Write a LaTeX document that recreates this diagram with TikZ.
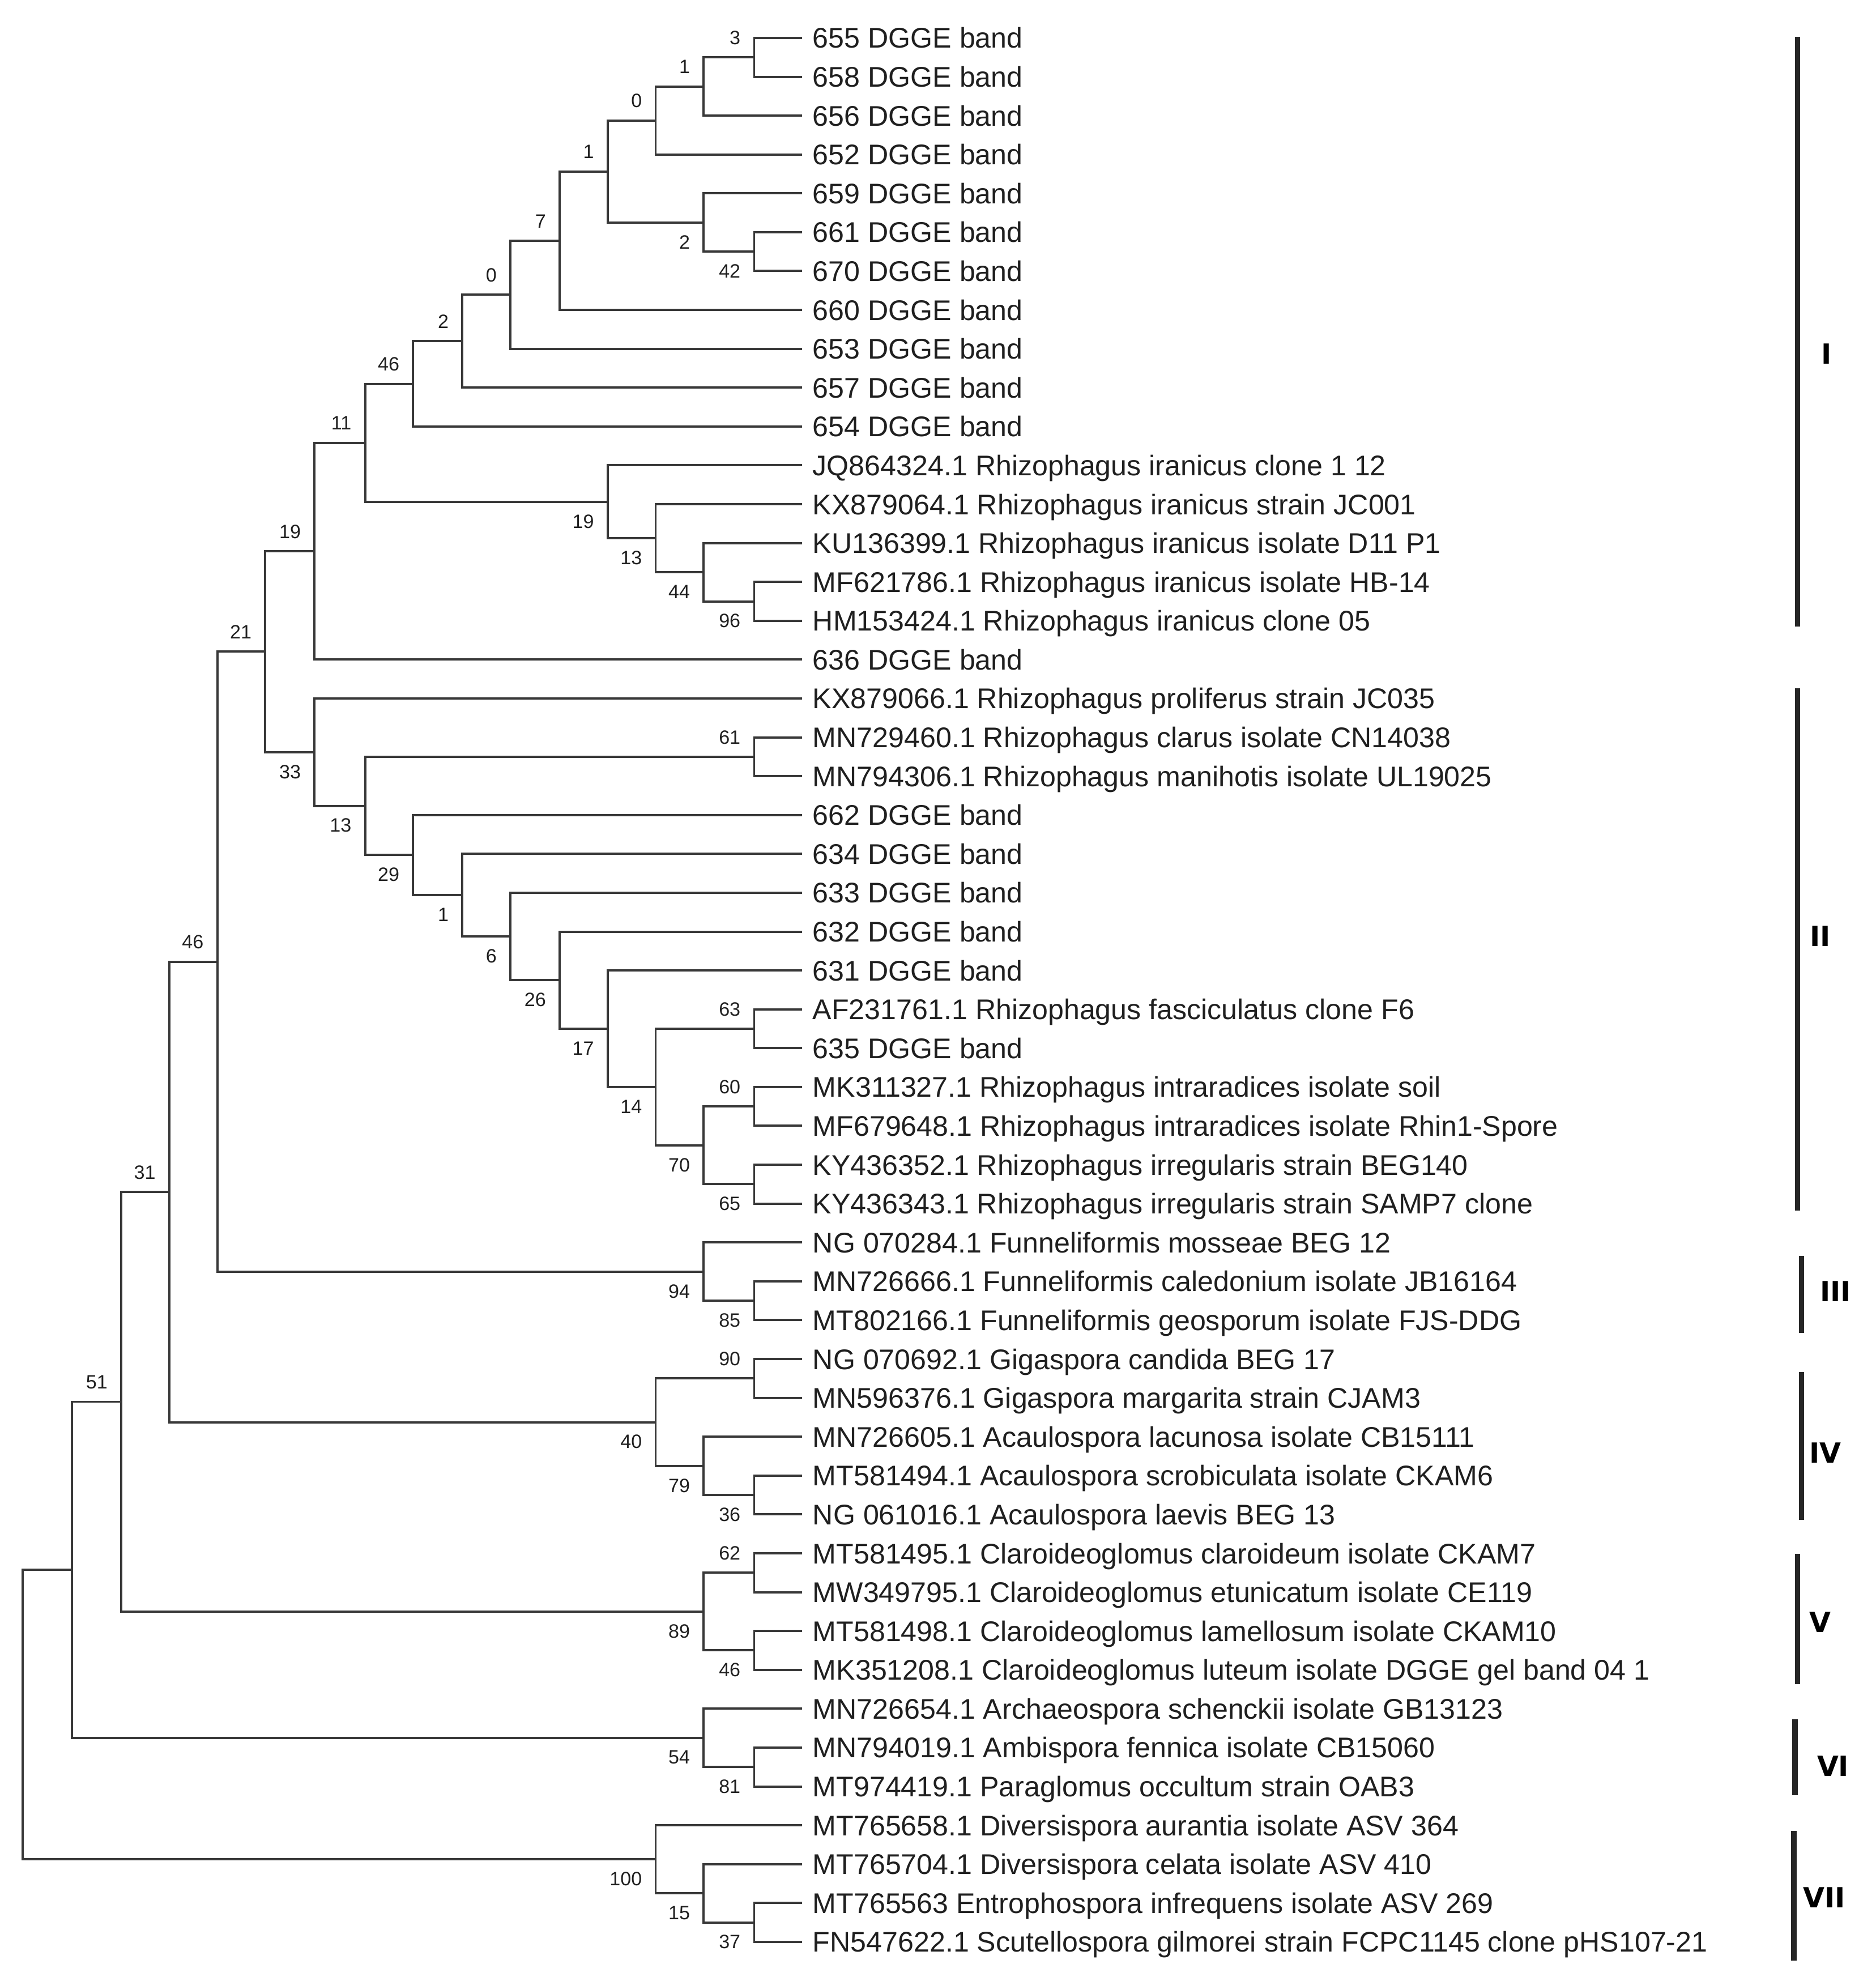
\documentclass[tikz,border=0pt]{standalone}
\usepackage{fontspec}
\setmainfont{Liberation Sans}
\newfontfamily\bootfont{Liberation Sans}
\newfontfamily\cladefont{DejaVu Sans}

\begin{document}
\begin{tikzpicture}[x=0.02cm, y=-0.02cm, line width=1pt, color=black!78,
		taxon/.style={anchor=west, inner xsep=0.15cm, inner ysep=0pt, text height=11.4pt, text depth=2.2pt, text=black!88, font=\fontsize{12.8}{15}\selectfont},
		bsup/.style={anchor=east, inner sep=0pt, xshift=-0.2cm, yshift=0.31cm, text=black!88, font=\bootfont\fontsize{8.7}{10}\selectfont},
		bsdn/.style={bsup, yshift=-0.62cm},
		clade/.style={line width=2.4pt, color=black!85},
		cladename/.style={text=black, font=\cladefont\bfseries\fontsize{12.5}{14}\selectfont}]
		%%%%% START %%%%%
		
		\useasboundingbox (0,0) rectangle (1485,1568);
		
		% taxa
		\node[taxon] (t1) at (635,30.0) {655 DGGE band};
		\node[taxon] (t2) at (635,60.8) {658 DGGE band};
		\node[taxon] (t3) at (635,91.5) {656 DGGE band};
		\node[taxon] (t4) at (635,122.3) {652 DGGE band};
		\node[taxon] (t5) at (635,153.0) {659 DGGE band};
		\node[taxon] (t6) at (635,183.8) {661 DGGE band};
		\node[taxon] (t7) at (635,214.5) {670 DGGE band};
		\node[taxon] (t8) at (635,245.3) {660 DGGE band};
		\node[taxon] (t9) at (635,276.0) {653 DGGE band};
		\node[taxon] (t10) at (635,306.8) {657 DGGE band};
		\node[taxon] (t11) at (635,337.6) {654 DGGE band};
		\node[taxon] (t12) at (635,368.3) {JQ864324.1 Rhizophagus iranicus clone 1 12};
		\node[taxon] (t13) at (635,399.1) {KX879064.1 Rhizophagus iranicus strain JC001};
		\node[taxon] (t14) at (635,429.8) {KU136399.1 Rhizophagus iranicus isolate D11 P1};
		\node[taxon] (t15) at (635,460.6) {MF621786.1 Rhizophagus iranicus isolate HB-14};
		\node[taxon] (t16) at (635,491.3) {HM153424.1 Rhizophagus iranicus clone 05};
		\node[taxon] (t17) at (635,522.1) {636 DGGE band};
		\node[taxon] (t18) at (635,552.8) {KX879066.1 Rhizophagus proliferus strain JC035};
		\node[taxon] (t19) at (635,583.6) {MN729460.1 Rhizophagus clarus isolate CN14038};
		\node[taxon] (t20) at (635,614.4) {MN794306.1 Rhizophagus manihotis isolate UL19025};
		\node[taxon] (t21) at (635,645.1) {662 DGGE band};
		\node[taxon] (t22) at (635,675.9) {634 DGGE band};
		\node[taxon] (t23) at (635,706.6) {633 DGGE band};
		\node[taxon] (t24) at (635,737.4) {632 DGGE band};
		\node[taxon] (t25) at (635,768.1) {631 DGGE band};
		\node[taxon] (t26) at (635,798.9) {AF231761.1 Rhizophagus fasciculatus clone F6};
		\node[taxon] (t27) at (635,829.6) {635 DGGE band};
		\node[taxon] (t28) at (635,860.4) {MK311327.1 Rhizophagus intraradices isolate soil};
		\node[taxon] (t29) at (635,891.1) {MF679648.1 Rhizophagus intraradices isolate Rhin1-Spore};
		\node[taxon] (t30) at (635,921.9) {KY436352.1 Rhizophagus irregularis strain BEG140};
		\node[taxon] (t31) at (635,952.7) {KY436343.1 Rhizophagus irregularis strain SAMP7 clone};
		\node[taxon] (t32) at (635,983.4) {NG 070284.1 Funneliformis mosseae BEG 12};
		\node[taxon] (t33) at (635,1014.2) {MN726666.1 Funneliformis caledonium isolate JB16164};
		\node[taxon] (t34) at (635,1044.9) {MT802166.1 Funneliformis geosporum isolate FJS-DDG};
		\node[taxon] (t35) at (635,1075.7) {NG 070692.1 Gigaspora candida BEG 17};
		\node[taxon] (t36) at (635,1106.4) {MN596376.1 Gigaspora margarita strain CJAM3};
		\node[taxon] (t37) at (635,1137.2) {MN726605.1 Acaulospora lacunosa isolate CB15111};
		\node[taxon] (t38) at (635,1167.9) {MT581494.1 Acaulospora scrobiculata isolate CKAM6};
		\node[taxon] (t39) at (635,1198.7) {NG 061016.1 Acaulospora laevis BEG 13};
		\node[taxon] (t40) at (635,1229.5) {MT581495.1 Claroideoglomus claroideum isolate CKAM7};
		\node[taxon] (t41) at (635,1260.2) {MW349795.1 Claroideoglomus etunicatum isolate CE119};
		\node[taxon] (t42) at (635,1291.0) {MT581498.1 Claroideoglomus lamellosum isolate CKAM10};
		\node[taxon] (t43) at (635,1321.7) {MK351208.1 Claroideoglomus luteum isolate DGGE gel band 04 1};
		\node[taxon] (t44) at (635,1352.5) {MN726654.1 Archaeospora schenckii isolate GB13123};
		\node[taxon] (t45) at (635,1383.2) {MN794019.1 Ambispora fennica isolate CB15060};
		\node[taxon] (t46) at (635,1414.0) {MT974419.1 Paraglomus occultum strain OAB3};
		\node[taxon] (t47) at (635,1444.7) {MT765658.1 Diversispora aurantia isolate ASV 364};
		\node[taxon] (t48) at (635,1475.5) {MT765704.1 Diversispora celata isolate ASV 410};
		\node[taxon] (t49) at (635,1506.2) {MT765563 Entrophospora infrequens isolate ASV 269};
		\node[taxon] (t50) at (635,1537.0) {FN547622.1 Scutellospora gilmorei strain FCPC1145 clone pHS107-21};
		
		% inner nodes
		\coordinate (nA) at (597,45.4);
		\coordinate (nB) at (557,68.5);
		\coordinate (nC) at (519,95.4);
		\coordinate (nD) at (597,199.2);
		\coordinate (nE) at (557,176.1);
		\coordinate (nF) at (481,135.7);
		\coordinate (nG) at (443,190.5);
		\coordinate (nH) at (404,233.3);
		\coordinate (nI) at (366,270.0);
		\coordinate (nJ) at (327,303.8);
		\coordinate (nK) at (597,476.0);
		\coordinate (nL) at (557,452.9);
		\coordinate (nM) at (519,426.0);
		\coordinate (nN) at (481,397.2);
		\coordinate (nO) at (289,350.5);
		\coordinate (nP) at (249,436.3);
		\coordinate (nQ) at (597,599.0);
		\coordinate (nR) at (597,814.3);
		\coordinate (nS) at (597,875.8);
		\coordinate (nT) at (597,937.3);
		\coordinate (nU) at (557,906.5);
		\coordinate (nV) at (519,860.4);
		\coordinate (nW) at (481,814.3);
		\coordinate (nX) at (443,775.8);
		\coordinate (nY) at (404,741.2);
		\coordinate (nZ) at (366,708.5);
		\coordinate (nAA) at (327,676.8);
		\coordinate (nAB) at (289,637.9);
		\coordinate (nAC) at (249,595.4);
		\coordinate (nAD) at (210,515.8);
		\coordinate (nAE) at (597,1029.5);
		\coordinate (nAF) at (557,1006.5);
		\coordinate (nAG) at (172,761.2);
		\coordinate (nAH) at (597,1091.1);
		\coordinate (nAI) at (597,1183.3);
		\coordinate (nAJ) at (557,1160.3);
		\coordinate (nAK) at (519,1125.7);
		\coordinate (nAL) at (134,943.4);
		\coordinate (nAM) at (597,1244.8);
		\coordinate (nAN) at (597,1306.3);
		\coordinate (nAO) at (557,1275.6);
		\coordinate (nAP) at (96,1109.5);
		\coordinate (nAQ) at (597,1398.6);
		\coordinate (nAR) at (557,1375.5);
		\coordinate (nAS) at (57,1242.5);
		\coordinate (nAT) at (597,1521.6);
		\coordinate (nAU) at (557,1498.6);
		\coordinate (nAV) at (519,1471.7);
		\coordinate (nRoot) at (18,1357.1);
		
		% branches
		\draw (nA) |- (t1.west) (nA) |- (t2.west);
		\draw (nB) |- (nA) (nB) |- (t3.west);
		\draw (nC) |- (nB) (nC) |- (t4.west);
		\draw (nD) |- (t6.west) (nD) |- (t7.west);
		\draw (nE) |- (t5.west) (nE) |- (nD);
		\draw (nF) |- (nC) (nF) |- (nE);
		\draw (nG) |- (nF) (nG) |- (t8.west);
		\draw (nH) |- (nG) (nH) |- (t9.west);
		\draw (nI) |- (nH) (nI) |- (t10.west);
		\draw (nJ) |- (nI) (nJ) |- (t11.west);
		\draw (nK) |- (t15.west) (nK) |- (t16.west);
		\draw (nL) |- (t14.west) (nL) |- (nK);
		\draw (nM) |- (t13.west) (nM) |- (nL);
		\draw (nN) |- (t12.west) (nN) |- (nM);
		\draw (nO) |- (nJ) (nO) |- (nN);
		\draw (nP) |- (nO) (nP) |- (t17.west);
		\draw (nQ) |- (t19.west) (nQ) |- (t20.west);
		\draw (nR) |- (t26.west) (nR) |- (t27.west);
		\draw (nS) |- (t28.west) (nS) |- (t29.west);
		\draw (nT) |- (t30.west) (nT) |- (t31.west);
		\draw (nU) |- (nS) (nU) |- (nT);
		\draw (nV) |- (nR) (nV) |- (nU);
		\draw (nW) |- (t25.west) (nW) |- (nV);
		\draw (nX) |- (t24.west) (nX) |- (nW);
		\draw (nY) |- (t23.west) (nY) |- (nX);
		\draw (nZ) |- (t22.west) (nZ) |- (nY);
		\draw (nAA) |- (t21.west) (nAA) |- (nZ);
		\draw (nAB) |- (nQ) (nAB) |- (nAA);
		\draw (nAC) |- (t18.west) (nAC) |- (nAB);
		\draw (nAD) |- (nP) (nAD) |- (nAC);
		\draw (nAE) |- (t33.west) (nAE) |- (t34.west);
		\draw (nAF) |- (t32.west) (nAF) |- (nAE);
		\draw (nAG) |- (nAD) (nAG) |- (nAF);
		\draw (nAH) |- (t35.west) (nAH) |- (t36.west);
		\draw (nAI) |- (t38.west) (nAI) |- (t39.west);
		\draw (nAJ) |- (t37.west) (nAJ) |- (nAI);
		\draw (nAK) |- (nAH) (nAK) |- (nAJ);
		\draw (nAL) |- (nAG) (nAL) |- (nAK);
		\draw (nAM) |- (t40.west) (nAM) |- (t41.west);
		\draw (nAN) |- (t42.west) (nAN) |- (t43.west);
		\draw (nAO) |- (nAM) (nAO) |- (nAN);
		\draw (nAP) |- (nAL) (nAP) |- (nAO);
		\draw (nAQ) |- (t45.west) (nAQ) |- (t46.west);
		\draw (nAR) |- (t44.west) (nAR) |- (nAQ);
		\draw (nAS) |- (nAP) (nAS) |- (nAR);
		\draw (nAT) |- (t49.west) (nAT) |- (t50.west);
		\draw (nAU) |- (t48.west) (nAU) |- (nAT);
		\draw (nAV) |- (t47.west) (nAV) |- (nAU);
		\draw (nRoot) |- (nAS) (nRoot) |- (nAV);
		
		% bootstrap values
		\node[bsup] (bA) at (nA) {3};
		\node[bsup] (bB) at (nB) {1};
		\node[bsup] (bC) at (nC) {0};
		\node[bsdn] (bD) at (nD) {42};
		\node[bsdn] (bE) at (nE) {2};
		\node[bsup] (bF) at (nF) {1};
		\node[bsup] (bG) at (nG) {7};
		\node[bsup] (bH) at (nH) {0};
		\node[bsup] (bI) at (nI) {2};
		\node[bsup] (bJ) at (nJ) {46};
		\node[bsdn] (bK) at (nK) {96};
		\node[bsdn] (bL) at (nL) {44};
		\node[bsdn] (bM) at (nM) {13};
		\node[bsdn] (bN) at (nN) {19};
		\node[bsup] (bO) at (nO) {11};
		\node[bsup] (bP) at (nP) {19};
		\node[bsup] (bQ) at (nQ) {61};
		\node[bsup] (bR) at (nR) {63};
		\node[bsup] (bS) at (nS) {60};
		\node[bsdn] (bT) at (nT) {65};
		\node[bsdn] (bU) at (nU) {70};
		\node[bsdn] (bV) at (nV) {14};
		\node[bsdn] (bW) at (nW) {17};
		\node[bsdn] (bX) at (nX) {26};
		\node[bsdn] (bY) at (nY) {6};
		\node[bsdn] (bZ) at (nZ) {1};
		\node[bsdn] (bAA) at (nAA) {29};
		\node[bsdn] (bAB) at (nAB) {13};
		\node[bsdn] (bAC) at (nAC) {33};
		\node[bsup] (bAD) at (nAD) {21};
		\node[bsdn] (bAE) at (nAE) {85};
		\node[bsdn] (bAF) at (nAF) {94};
		\node[bsup] (bAG) at (nAG) {46};
		\node[bsup] (bAH) at (nAH) {90};
		\node[bsdn] (bAI) at (nAI) {36};
		\node[bsdn] (bAJ) at (nAJ) {79};
		\node[bsdn] (bAK) at (nAK) {40};
		\node[bsup] (bAL) at (nAL) {31};
		\node[bsup] (bAM) at (nAM) {62};
		\node[bsdn] (bAN) at (nAN) {46};
		\node[bsdn] (bAO) at (nAO) {89};
		\node[bsup] (bAP) at (nAP) {51};
		\node[bsdn] (bAQ) at (nAQ) {81};
		\node[bsdn] (bAR) at (nAR) {54};
		\node[bsdn] (bAT) at (nAT) {37};
		\node[bsdn] (bAU) at (nAU) {15};
		\node[bsdn] (bAV) at (nAV) {100};
		
		% clades
		\draw[clade] (1423,29) -- (1423,496);
		\draw[clade] (1423,545) -- (1423,958);
		\draw[clade] (1426,994) -- (1426,1055);
		\draw[clade] (1426,1086) -- (1426,1203);
		\draw[clade] (1423,1230) -- (1423,1333);
		\draw[clade] (1421,1361) -- (1421,1421);
		\draw[clade] (1420,1449) -- (1420,1552);
		
		\node[cladename] (kI) at (1446,280) {I};
		\node[cladename] (kII) at (1441,741) {II};
		\node[cladename] (kIII) at (1453,1022) {III};
		\node[cladename] (kIV) at (1445,1150) {IV};
		\node[cladename] (kV) at (1441,1284) {V};
		\node[cladename] (kVI) at (1451,1398) {VI};
		\node[cladename] (kVII) at (1444,1502) {VII};
		
		%%%%% END %%%%%
	\end{tikzpicture}
\end{document}
